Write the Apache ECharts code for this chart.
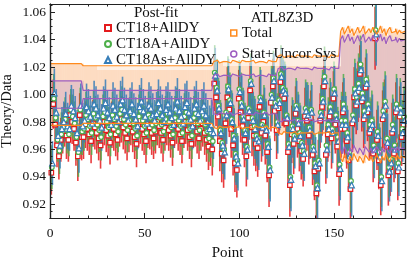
<!DOCTYPE html>
<html><head><meta charset="utf-8">
<script src="https://cdn.jsdelivr.net/npm/echarts@6/dist/echarts.min.js"></script>
<style>html,body{margin:0;padding:0;background:#fff}#c{width:407px;height:265px}</style>
</head><body><div id="c"></div>
<script>
// Theory/Data per point (points 1..187)
const ct18 = [
0.943,0.993,0.978,0.963,0.955,0.967,0.972,0.978,0.970,0.967,0.985,0.980,0.975,0.965,0.955,0.985,0.969,
0.969,0.978,0.975,0.971,0.966,0.979,0.976,0.972,0.968,0.963,
0.977,0.980,0.974,0.970,0.965,0.978,0.975,0.971,0.967,0.979,
0.982,0.976,0.972,0.968,0.975,0.979,0.973,0.969,0.964,0.977,
0.981,0.975,0.971,0.966,0.978,0.976,0.972,0.968,0.973,0.980,
0.977,0.972,0.967,0.976,0.979,0.974,0.970,0.965,0.977,0.981,
0.975,0.971,0.966,0.978,0.980,0.974,0.969,0.964,0.977,0.979,
0.973,0.968,0.975,0.979,0.972,0.967,0.962,0.966,0.960,
1.008,0.998,0.984,0.966,0.957,0.952,0.979,0.998,0.989,0.975,
0.963,0.950,0.945,0.997,0.987,0.977,0.967,0.955,0.983,1.003,
0.976,0.970,0.964,0.961,0.991,0.972,0.980,0.970,0.958,0.941,
0.994,1.006,0.988,0.974,0.990,1.009,0.999,0.997,0.979,0.958,
0.934,0.971,0.964,0.986,0.975,0.966,0.959,0.953,0.984,0.981,
0.970,0.983,0.956,0.944,0.928,0.946,0.981,0.991,1.006,0.956,
0.971,0.984,0.968,0.997,0.978,0.962,0.942,
0.975,0.987,0.975,0.966,0.952,0.931,0.979,0.998,0.992,1.002,
1.015,0.995,0.982,1.005,0.987,0.972,0.975,0.957,1.041,0.967,
0.952,0.934,0.982,0.989,0.962,0.941,0.947,0.972,0.957,0.987,
0.944,0.984,0.969,0.978];
const ct18a = [
0.947,0.997,0.983,0.967,0.959,0.971,0.976,0.982,0.974,0.971,0.989,0.984,0.979,0.969,0.958,0.989,0.973,
0.975,0.985,0.982,0.977,0.972,0.986,0.983,0.978,0.974,0.969,
0.984,0.987,0.980,0.976,0.971,0.985,0.982,0.977,0.973,0.986,
0.989,0.982,0.978,0.974,0.981,0.986,0.979,0.975,0.970,0.984,
0.988,0.981,0.977,0.972,0.985,0.983,0.978,0.974,0.979,0.987,
0.983,0.978,0.973,0.982,0.986,0.980,0.976,0.971,0.983,0.988,
0.981,0.977,0.972,0.984,0.987,0.980,0.975,0.970,0.983,0.986,
0.979,0.974,0.981,0.985,0.978,0.973,0.968,0.972,0.966,
1.016,1.005,0.992,0.974,0.965,0.960,0.987,1.006,0.996,0.982,
0.970,0.957,0.952,1.004,0.994,0.984,0.974,0.962,0.990,1.010,
0.983,0.977,0.970,0.968,0.998,0.978,0.987,0.976,0.964,0.947,
1.000,1.012,0.994,0.980,0.996,1.015,1.005,1.003,0.985,0.964,
0.940,0.977,0.970,0.992,0.981,0.972,0.965,0.959,0.990,0.987,
0.976,0.989,0.962,0.950,0.934,0.952,0.987,0.997,1.013,0.963,
0.978,0.991,0.975,1.004,0.985,0.969,0.949,
0.981,0.993,0.981,0.972,0.958,0.937,0.985,1.004,0.998,1.008,
1.022,1.001,0.988,1.011,0.993,0.978,0.981,0.963,1.047,0.973,
0.958,0.940,0.988,0.995,0.968,0.947,0.953,0.978,0.963,0.993,
0.950,0.990,0.975,0.984];
const ct18as = [
0.950,1.001,0.987,0.970,0.963,0.975,0.980,0.986,0.977,0.975,0.992,0.988,0.983,0.972,0.961,0.992,0.977,
0.981,0.991,0.988,0.984,0.979,0.993,0.990,0.985,0.981,0.976,
0.990,0.994,0.987,0.983,0.978,0.992,0.989,0.984,0.980,0.993,
0.996,0.989,0.985,0.981,0.988,0.993,0.986,0.982,0.977,0.991,
0.995,0.988,0.984,0.979,0.992,0.990,0.985,0.981,0.986,0.994,
0.990,0.985,0.980,0.989,0.993,0.987,0.983,0.978,0.990,0.995,
0.988,0.984,0.979,0.991,0.994,0.987,0.982,0.977,0.990,0.993,
0.986,0.981,0.988,0.992,0.985,0.980,0.975,0.978,0.972,
1.014,1.003,0.990,0.972,0.963,0.958,0.985,1.004,0.994,0.980,
0.968,0.955,0.950,1.002,0.992,0.982,0.972,0.960,0.988,1.008,
0.981,0.975,0.968,0.966,0.996,0.976,0.985,0.974,0.962,0.945,
0.998,1.010,0.992,0.978,0.994,1.013,1.003,1.001,0.983,0.962,
0.938,0.975,0.968,0.990,0.979,0.970,0.963,0.957,0.988,0.985,
0.974,0.987,0.960,0.948,0.932,0.950,0.985,0.995,1.010,0.960,
0.975,0.988,0.972,1.001,0.982,0.966,0.946,
0.978,0.990,0.978,0.969,0.955,0.934,0.982,1.001,0.995,1.005,
1.018,0.998,0.985,1.008,0.990,0.975,0.978,0.960,1.044,0.970,
0.955,0.937,0.985,0.992,0.965,0.944,0.950,0.975,0.960,0.990,
0.947,0.987,0.972,0.981];
// PDF uncertainty (half width) per point
const pdfErr = [
0.016,0.018,0.017,0.016,0.017,0.016,0.015,0.016,0.017,0.016,0.015,0.016,0.016,0.017,0.018,0.016,0.017,
0.016,0.017,0.016,0.015,0.016,0.017,0.016,0.015,0.016,0.017,
0.016,0.017,0.016,0.015,0.016,0.017,0.016,0.016,0.015,0.017,
0.017,0.016,0.015,0.016,0.017,0.016,0.015,0.016,0.017,0.016,
0.017,0.016,0.015,0.016,0.017,0.016,0.016,0.015,0.016,0.017,
0.016,0.015,0.016,0.017,0.016,0.015,0.016,0.017,0.016,0.017,
0.016,0.015,0.016,0.017,0.016,0.015,0.016,0.017,0.016,0.017,
0.016,0.015,0.016,0.017,0.016,0.016,0.017,0.018,0.019,
0.020,0.021,0.020,0.022,0.021,0.020,0.021,0.022,0.020,0.021,
0.022,0.021,0.020,0.021,0.022,0.021,0.020,0.022,0.021,0.020,
0.021,0.022,0.020,0.021,0.022,0.021,0.020,0.021,0.022,0.023,
0.021,0.020,0.022,0.021,0.020,0.021,0.022,0.021,0.020,0.022,
0.023,0.021,0.022,0.020,0.021,0.022,0.021,0.020,0.021,0.022,
0.021,0.020,0.022,0.021,0.022,0.021,0.020,0.021,0.022,0.021,
0.020,0.021,0.022,0.020,0.021,0.022,0.023,
0.021,0.022,0.021,0.020,0.022,0.023,0.021,0.022,0.021,0.022,
0.021,0.022,0.021,0.022,0.021,0.020,0.022,0.021,0.023,0.022,
0.021,0.022,0.021,0.022,0.021,0.022,0.021,0.022,0.021,0.022,
0.021,0.022,0.021,0.022];
// Total experimental uncertainty (half width, relative)
const totErr = [
0.0225,0.0225,0.0225,0.0225,0.0225,0.0225,0.0225,0.0225,0.0225,0.0225,0.0225,0.0225,0.0225,0.0225,0.0225,0.0225,0.0225,
0.021,0.021,0.021,0.021,0.021,0.021,0.021,0.021,0.021,0.021,
0.021,0.021,0.021,0.021,0.021,0.021,0.021,0.021,0.021,0.021,
0.021,0.021,0.021,0.021,0.021,0.021,0.021,0.021,0.021,0.021,
0.021,0.021,0.021,0.021,0.021,0.021,0.021,0.021,0.021,0.021,
0.021,0.021,0.021,0.021,0.021,0.021,0.021,0.021,0.021,0.021,
0.021,0.021,0.021,0.021,0.021,0.021,0.021,0.021,0.021,0.021,
0.021,0.021,0.021,0.021,0.021,0.021,0.021,0.021,0.021,
0.024,0.025,0.024,0.023,0.024,0.025,0.024,0.024,0.023,0.024,
0.025,0.024,0.024,0.023,0.024,0.025,0.024,0.023,0.024,0.024,
0.025,0.024,0.023,0.024,0.025,0.024,0.024,0.023,0.024,0.025,
0.024,0.023,0.024,0.025,
0.028,0.029,0.028,0.027,0.028,0.029,0.028,0.028,0.027,0.028,
0.029,0.028,0.027,0.028,0.029,0.028,0.028,0.027,0.028,0.029,
0.028,0.027,0.028,0.029,0.028,0.028,0.027,0.028,0.029,0.028,
0.027,0.028,0.029,
0.046,0.049,0.044,0.047,0.050,0.045,0.048,0.043,0.046,0.049,
0.045,0.047,0.050,0.044,0.046,0.048,0.045,0.049,0.047,0.044,
0.046,0.050,0.045,0.048,0.043,0.047,0.049,0.045,0.046,0.048,
0.044,0.047,0.045,0.046];
// Stat + uncorrelated systematic uncertainty (half width, relative)
const uncErr = [
0.010,0.010,0.010,0.010,0.010,0.010,0.010,0.010,0.010,0.010,0.010,0.010,0.010,0.010,0.010,0.010,0.010,
0.003,0.003,0.003,0.003,0.003,0.003,0.003,0.003,0.003,0.003,
0.003,0.003,0.003,0.003,0.003,0.003,0.003,0.003,0.003,0.003,
0.003,0.003,0.003,0.003,0.003,0.003,0.003,0.003,0.003,0.003,
0.003,0.003,0.003,0.003,0.003,0.003,0.003,0.003,0.003,0.003,
0.003,0.003,0.003,0.003,0.003,0.003,0.003,0.003,0.003,0.003,
0.003,0.003,0.003,0.003,0.003,0.003,0.003,0.003,0.003,0.003,
0.003,0.003,0.003,0.003,0.003,0.003,0.003,0.003,0.003,
0.014,0.015,0.014,0.013,0.014,0.015,0.014,0.014,0.013,0.014,
0.015,0.014,0.014,0.013,0.014,0.015,0.014,0.013,0.014,0.014,
0.015,0.014,0.013,0.014,0.015,0.014,0.014,0.013,0.014,0.015,
0.014,0.013,0.014,0.015,
0.019,0.020,0.019,0.018,0.019,0.020,0.019,0.019,0.018,0.019,
0.020,0.019,0.018,0.019,0.020,0.019,0.019,0.018,0.019,0.020,
0.019,0.018,0.019,0.020,0.019,0.019,0.018,0.019,0.020,0.019,
0.018,0.019,0.020,
0.040,0.043,0.038,0.041,0.044,0.039,0.042,0.037,0.040,0.043,
0.039,0.041,0.044,0.038,0.040,0.042,0.039,0.043,0.041,0.038,
0.040,0.044,0.039,0.042,0.037,0.041,0.043,0.039,0.040,0.042,
0.038,0.041,0.039,0.040];
const xTicks = [0, 50, 100, 150];
const yTicks = [0.92, 0.94, 0.96, 0.98, 1.00, 1.02, 1.04, 1.06];
const seriesNames = ['CT18+AllDY', 'CT18A+AllDY', 'CT18As+AllDY'];

const points = ct18.map((_, i) => i + 1);

const FONT = '"Liberation Serif", "Times New Roman", serif';
const C_RED = '#e41a1c', C_GREEN = '#4daf4a', C_BLUE = '#377eb8';
const C_ORANGE = '#ff8a1c', C_PURPLE = '#9d5cc0';
const F_TOT = '#fddcc2', F_UNC = '#e7c4c5';

function band(err) { return points.map((x, i) => [x, 1 - err[i], 1 + err[i]]); }
function edge(err, sign) {
  const out = [];
  points.forEach((x, i) => { out.push([x - 0.5, 1 + sign * err[i]]); out.push([x + 0.5, 1 + sign * err[i]]); });
  return out;
}
function bandItem(color) {
  return function (params, api) {
    const x = api.value(0), lo = api.value(1), hi = api.value(2);
    const a = api.coord([x - 0.5, hi]), b = api.coord([x + 0.5, lo]);
    return { type: 'rect', shape: { x: a[0], y: a[1], width: b[0] - a[0] + 0.6, height: b[1] - a[1] }, style: { fill: color } };
  };
}
function barItem(color, off) {
  return function (params, api) {
    const x = api.value(0) + off, v = api.value(1), e = api.value(2);
    const a = api.coord([x, v + e]), b = api.coord([x, v - e]);
    return { type: 'line', shape: { x1: a[0], y1: a[1], x2: b[0], y2: b[1] }, style: { stroke: color, lineWidth: 1.6, opacity: 0.85 } };
  };
}
function errSeries(vals, color, off, name) {
  return { type: 'custom', name: name + ' err', clip: true, silent: true,
    renderItem: barItem(color, off), encode: { x: 0, y: 1 },
    data: points.map((x, i) => [x, vals[i], pdfErr[i]]) };
}
function markSeries(vals, color, off, name, symbol, size) {
  return { type: 'scatter', name: name, symbol: symbol, symbolSize: size, silent: true,
    itemStyle: { color: '#fff', borderColor: color, borderWidth: 1.2, opacity: 1 },
    data: points.map((x, i) => [x + off, vals[i]]) };
}
function edgeSeries(err, sign, color) {
  return { type: 'line', silent: true, symbol: 'none', showSymbol: false,
    lineStyle: { color: color, width: 1.2 }, data: edge(err, sign) };
}

const axisCommon = { type: 'value', z: 10, axisLine: { onZero: false, lineStyle: { color: '#222', width: 1.2 } }, splitLine: { show: false } };
const xMin = 0, xMax = 187.5, yMin = 0.91, yMax = 1.066;

const option = {
  animation: false,
  backgroundColor: '#fff',
  grid: { left: 50, right: 2, top: 4, bottom: 47, containLabel: false, outerBoundsMode: 'none' },
  xAxis: [
    Object.assign({}, axisCommon, { position: 'bottom', min: xMin, max: xMax, interval: 50,
      name: 'Point', nameLocation: 'middle', nameGap: 28, nameMoveOverlap: false,
      nameTextStyle: { fontFamily: FONT, fontSize: 15, color: '#111' },
      axisTick: { inside: true, length: 5, lineStyle: { color: '#222' } },
      axisLabel: { margin: 8, fontFamily: FONT, fontSize: 13.5, color: '#111',
        formatter: v => (xTicks.indexOf(Math.round(v)) >= 0 && Math.abs(v - Math.round(v)) < 1e-6) ? String(Math.round(v)) : '' } }),
    Object.assign({}, axisCommon, { position: 'bottom', min: xMin, max: xMax, interval: 10,
      axisTick: { inside: true, length: 2.5, lineStyle: { color: '#222' } }, axisLabel: { show: false } }),
    Object.assign({}, axisCommon, { position: 'top', min: xMin, max: xMax, interval: 50,
      axisTick: { inside: true, length: 5, lineStyle: { color: '#222' } }, axisLabel: { show: false } }),
    Object.assign({}, axisCommon, { position: 'top', min: xMin, max: xMax, interval: 10,
      axisTick: { inside: true, length: 2.5, lineStyle: { color: '#222' } }, axisLabel: { show: false } })
  ],
  yAxis: [
    Object.assign({}, axisCommon, { position: 'left', min: yMin, max: yMax, splitNumber: 8,
      name: 'Theory/Data', nameLocation: 'middle', nameGap: 35, nameRotate: 90, nameMoveOverlap: false,
      nameTextStyle: { fontFamily: FONT, fontSize: 14.5, color: '#111' },
      axisTick: { inside: true, length: 5, lineStyle: { color: '#222' } },
      axisLabel: { margin: 4, fontFamily: FONT, fontSize: 13.5, color: '#111',
        formatter: v => { const t = yTicks.find(t => Math.abs(t - v) < 1e-6); return t !== undefined ? t.toFixed(2) : ''; } } }),
    Object.assign({}, axisCommon, { position: 'left', min: yMin, max: yMax, interval: 0.005,
      axisTick: { inside: true, length: 2.5, lineStyle: { color: '#222' } }, axisLabel: { show: false } }),
    Object.assign({}, axisCommon, { position: 'right', min: yMin, max: yMax, splitNumber: 8,
      axisTick: { inside: true, length: 5, lineStyle: { color: '#222' } }, axisLabel: { show: false } }),
    Object.assign({}, axisCommon, { position: 'right', min: yMin, max: yMax, interval: 0.005,
      axisTick: { inside: true, length: 2.5, lineStyle: { color: '#222' } }, axisLabel: { show: false } })
  ],
  legend: [
    { orient: 'vertical', left: 99, top: 15, itemWidth: 6, itemHeight: 6, itemGap: 0, selectedMode: false, z: 5,
      textStyle: { fontFamily: FONT, fontSize: 15, lineHeight: 16, color: '#111' },
      data: seriesNames },
    { orient: 'vertical', left: 225, top: 20, itemWidth: 6, itemHeight: 6, itemGap: 5, selectedMode: false, z: 5,
      textStyle: { fontFamily: FONT, fontSize: 15, lineHeight: 16, color: '#111' },
      data: [
        { name: 'Total', icon: 'rect', itemStyle: { color: '#fff', borderColor: C_ORANGE, borderWidth: 1.5 } },
        { name: 'Stat+Uncor Sys', icon: 'circle', itemStyle: { color: '#fff', borderColor: C_PURPLE, borderWidth: 1.5 } }
      ] }
  ],
  graphic: [
    { type: 'rect', z: 3, silent: true, shape: { x: 97, y: 5, width: 120, height: 65 }, style: { fill: 'rgba(255,255,255,0.55)' } },
    { type: 'rect', z: 3, silent: true, shape: { x: 223, y: 5, width: 118, height: 61 }, style: { fill: 'rgba(255,255,255,0.55)' } },
    { type: 'text', z: 6, silent: true, x: 156, y: 13, style: { text: 'Post-fit', font: '15px ' + FONT, fill: '#111', align: 'center', verticalAlign: 'middle' } },
    { type: 'text', z: 6, silent: true, x: 282, y: 18, style: { text: 'ATL8Z3D', font: '15px ' + FONT, fill: '#111', align: 'center', verticalAlign: 'middle' } }
  ],
  series: [
    { type: 'custom', name: 'Total', silent: true, renderItem: bandItem(F_TOT), encode: { x: 0, y: [1, 2] }, data: band(totErr), itemStyle: { color: C_ORANGE } },
    { type: 'custom', name: 'Stat+Uncor Sys', silent: true, renderItem: bandItem(F_UNC), encode: { x: 0, y: [1, 2] }, data: band(uncErr), itemStyle: { color: C_PURPLE } },
    edgeSeries(totErr, 1, C_ORANGE), edgeSeries(totErr, -1, C_ORANGE),
    edgeSeries(uncErr, 1, C_PURPLE), edgeSeries(uncErr, -1, C_PURPLE),
    errSeries(ct18, C_RED, -0.3, seriesNames[0]),
    markSeries(ct18, C_RED, -0.3, seriesNames[0], 'rect', 4.5),
    errSeries(ct18a, C_GREEN, 0, seriesNames[1]),
    markSeries(ct18a, C_GREEN, 0, seriesNames[1], 'circle', 4.5),
    errSeries(ct18as, C_BLUE, 0.3, seriesNames[2]),
    markSeries(ct18as, C_BLUE, 0.3, seriesNames[2], 'triangle', 5.5)
  ]
};
echarts.init(document.getElementById('c'), null, { renderer: 'canvas' }).setOption(option);
</script></body></html>
